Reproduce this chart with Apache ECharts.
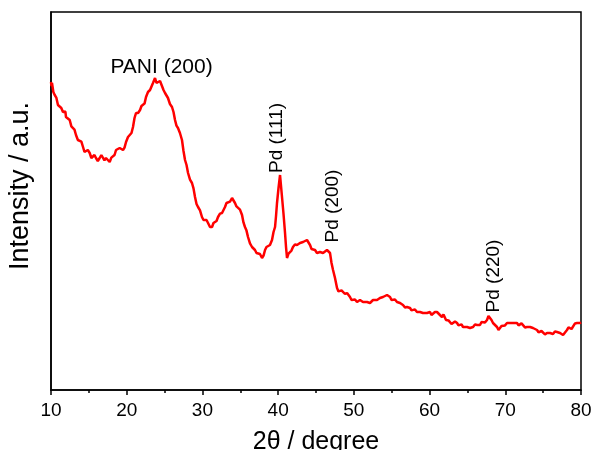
<!DOCTYPE html>
<html>
<head>
<meta charset="utf-8">
<title>XRD pattern</title>
<script src="https://cdn.jsdelivr.net/npm/echarts@6/dist/echarts.min.js"></script>
<style>
  html, body { margin: 0; padding: 0; background: #fff; }
  #chart { width: 594px; height: 450px; }
</style>
</head>
<body>
<div id="chart"></div>
<script>
// Diffraction angle 2θ (degree) and measured intensity (a.u.)
const twoTheta = [
  10.00, 10.07, 10.13, 10.31, 10.49, 10.70, 10.92, 11.14, 11.36, 11.58, 11.81, 11.90, 11.98, 12.22, 12.47, 12.69,
  12.91, 13.10, 13.30, 13.55, 13.79, 14.01, 14.23, 14.42, 14.62, 14.86, 15.11, 15.33, 15.55, 15.74, 15.94, 16.18,
  16.43, 16.65, 16.87, 17.06, 17.26, 17.50, 17.75, 17.97, 18.19, 18.39, 18.59, 18.83, 19.07, 19.29, 19.51, 19.71,
  19.91, 20.17, 20.43, 20.63, 20.83, 21.03, 21.23, 21.50, 21.76, 21.95, 22.15, 22.35, 22.55, 22.81, 23.08, 23.27,
  23.47, 23.60, 23.74, 23.93, 24.13, 24.40, 24.66, 24.86, 25.06, 25.25, 25.45, 25.71, 25.98, 26.18, 26.38, 26.57,
  26.77, 27.03, 27.30, 27.50, 27.70, 27.90, 28.10, 28.36, 28.62, 28.82, 29.02, 29.22, 29.42, 29.68, 29.94, 30.14,
  30.34, 30.54, 30.74, 31.00, 31.27, 31.46, 31.66, 31.86, 32.06, 32.32, 32.59, 32.78, 32.98, 33.18, 33.38, 33.64,
  33.91, 34.10, 34.30, 34.50, 34.70, 34.96, 35.23, 35.42, 35.62, 35.82, 36.02, 36.28, 36.55, 36.74, 36.94, 37.14,
  37.34, 37.60, 37.87, 38.07, 38.27, 38.46, 38.66, 38.92, 39.19, 39.39, 39.59, 39.72, 39.85, 40.05, 40.25, 40.38,
  40.51, 40.71, 40.91, 41.04, 41.17, 41.37, 41.57, 41.76, 41.96, 42.22, 42.49, 42.69, 42.89, 43.09, 43.29, 43.55,
  43.81, 44.01, 44.21, 44.41, 44.61, 44.87, 45.13, 45.33, 45.53, 45.73, 45.93, 46.19, 46.45, 46.65, 46.85, 47.05,
  47.25, 47.51, 47.78, 47.97, 48.17, 48.37, 48.57, 48.83, 49.10, 49.29, 49.49, 49.69, 49.89, 50.15, 50.42, 50.61,
  50.81, 51.01, 51.21, 51.47, 51.74, 51.93, 52.13, 52.33, 52.53, 52.79, 53.06, 53.25, 53.45, 53.65, 53.85, 54.11,
  54.38, 54.58, 54.78, 54.97, 55.17, 55.43, 55.70, 55.90, 56.10, 56.29, 56.49, 56.75, 57.02, 57.22, 57.42, 57.61,
  57.81, 58.07, 58.34, 58.54, 58.74, 58.93, 59.13, 59.39, 59.66, 59.86, 60.06, 60.25, 60.45, 60.71, 60.98, 61.11,
  61.37, 61.64, 61.84, 62.04, 62.17, 62.30, 62.50, 62.70, 62.90, 63.10, 63.36, 63.63, 63.82, 64.02, 64.22, 64.42,
  64.68, 64.95, 65.14, 65.34, 65.54, 65.74, 66.00, 66.27, 66.46, 66.66, 66.86, 67.06, 67.32, 67.59, 67.78, 67.98,
  68.18, 68.38, 68.64, 68.91, 69.10, 69.30, 69.50, 69.70, 69.96, 70.23, 70.43, 70.63, 70.82, 71.02, 71.28, 71.55,
  71.75, 71.95, 72.14, 72.34, 72.60, 72.87, 73.07, 73.27, 73.46, 73.66, 73.92, 74.19, 74.39, 74.59, 74.78, 74.98,
  75.24, 75.51, 75.71, 75.91, 76.10, 76.30, 76.56, 76.83, 77.03, 77.23, 77.43, 77.63, 77.89, 78.15, 78.35, 78.55,
  78.75, 78.95, 79.21, 79.48, 79.67, 79.87, 80.00
];
const intensity = [
  1540, 1520, 1535, 1490, 1475, 1462, 1425, 1428, 1410, 1390, 1400, 1392, 1365, 1370, 1350, 1318,
  1310, 1302, 1275, 1250, 1250, 1242, 1215, 1190, 1190, 1200, 1185, 1160, 1165, 1175, 1160, 1145,
  1160, 1175, 1165, 1148, 1160, 1160, 1140, 1162, 1165, 1175, 1200, 1192, 1210, 1218, 1200, 1212,
  1240, 1265, 1275, 1285, 1315, 1360, 1385, 1385, 1400, 1420, 1415, 1432, 1465, 1490, 1500, 1510,
  1535, 1545, 1560, 1535, 1525, 1545, 1535, 1500, 1485, 1480, 1460, 1430, 1415, 1390, 1350, 1322,
  1310, 1285, 1250, 1195, 1150, 1125, 1085, 1052, 1035, 1008, 965, 930, 915, 898, 865, 850,
  850, 850, 835, 815, 815, 835, 840, 845, 865, 882, 885, 893, 915, 935, 940, 942,
  960, 955, 935, 918, 915, 902, 875, 838, 815, 797, 765, 733, 715, 715, 700, 685,
  685, 680, 660, 672, 700, 715, 715, 725, 750, 790, 815, 870, 935, 1010, 1075, 1020,
  965, 880, 785, 715, 660, 682, 690, 697, 715, 728, 725, 722, 735, 745, 740, 738,
  750, 745, 725, 705, 700, 700, 685, 680, 690, 695, 685, 685, 700, 700, 685, 635,
  600, 560, 510, 493, 490, 498, 490, 480, 485, 483, 465, 450, 450, 453, 440, 438,
  450, 453, 440, 433, 440, 445, 435, 435, 450, 458, 450, 448, 460, 470, 465, 463,
  475, 478, 465, 450, 450, 453, 440, 430, 435, 438, 425, 413, 415, 420, 410, 398,
  400, 403, 390, 383, 390, 395, 385, 378, 385, 395, 390, 375, 375, 390, 390, 400,
  375, 365, 378, 375, 350, 340, 348, 340, 330, 335, 343, 335, 323, 325, 328, 315,
  308, 315, 320, 310, 305, 315, 328, 325, 318, 325, 340, 340, 338, 350, 370, 375,
  350, 335, 333, 315, 300, 300, 320, 325, 323, 335, 343, 335, 328, 335, 343, 335,
  323, 325, 333, 325, 313, 315, 323, 315, 305, 310, 313, 300, 288, 290, 295, 285,
  278, 285, 293, 285, 275, 280, 293, 290, 280, 285, 288, 275, 280, 300, 313, 310,
  305, 315, 333, 335, 328, 335, 338
];

// Reflection labels, where their text is centred (2θ, intensity), and their angle
const peakNames = ['PANI (200)', 'Pd (111)', 'Pd (200)', 'Pd (220)'];
const peakLabelX = [24.6, 39.85, 47.25, 68.5];
const peakLabelY = [1615, 1260, 920, 570];
const peakLabelRotate = [0, 90, 90, 90];
const peakLabelSize = [21, 19, 19, 19];

// x-axis tick settings
const xMin = 10, xMax = 80, xStep = 10;

const FONT = 'Liberation Sans, Arial, Helvetica, sans-serif';

const pattern = twoTheta.map((t, i) => [t, intensity[i]]);
const labelData = peakNames.map((name, i) => [peakLabelX[i], peakLabelY[i], i]);

const chart = echarts.init(document.getElementById('chart'), null, { renderer: 'canvas' });
chart.setOption({
  animation: false,
  backgroundColor: '#fff',
  grid: {
    left: 51, right: 13, top: 12, bottom: 60,
    outerBoundsMode: 'none',
    containLabel: false,
    show: true, borderColor: '#000', borderWidth: 1.5, backgroundColor: 'transparent'
  },
  xAxis: {
    type: 'value',
    min: xMin, max: xMax, interval: xStep,
    name: '2θ / degree',
    nameLocation: 'middle',
    nameGap: 40,
    nameTextStyle: { fontFamily: FONT, fontSize: 25, color: '#000' },
    axisLine: { show: true, onZero: false, lineStyle: { color: '#000', width: 1.5 } },
    axisTick: { show: true, inside: false, length: 5, lineStyle: { color: '#000', width: 1.5 } },
    minorTick: { show: true, splitNumber: 2, length: 3, lineStyle: { color: '#000', width: 1.5 } },
    splitLine: { show: false },
    axisLabel: { fontFamily: FONT, fontSize: 19, color: '#000', margin: 11 }
  },
  yAxis: {
    type: 'value',
    min: 0, max: 1890,
    name: 'Intensity / a.u.',
    nameLocation: 'middle',
    nameGap: 17,
    nameTextStyle: { fontFamily: FONT, fontSize: 27, color: '#000', padding: [0, 0, 0, 30] },
    axisLine: { show: true, lineStyle: { color: '#000', width: 1.5 } },
    axisTick: { show: false },
    axisLabel: { show: false },
    splitLine: { show: false }
  },
  series: [
    {
      type: 'line',
      data: pattern,
      showSymbol: false,
      symbol: 'none',
      lineStyle: { color: '#ff0000', width: 2.5 },
      z: 3
    },
    {
      // peak annotations placed through the axes' own coordinate system
      type: 'custom',
      data: labelData,
      silent: true,
      z: 4,
      renderItem: (params, api) => {
        const i = api.value(2);
        const pt = api.coord([api.value(0), api.value(1)]);
        return {
          type: 'text',
          x: pt[0],
          y: pt[1],
          rotation: peakLabelRotate[i] * Math.PI / 180,
          style: {
            text: peakNames[i],
            fill: '#000',
            font: peakLabelSize[i] + 'px ' + FONT,
            align: 'center',
            verticalAlign: 'middle'
          }
        };
      }
    }
  ]
});
</script>
</body>
</html>
